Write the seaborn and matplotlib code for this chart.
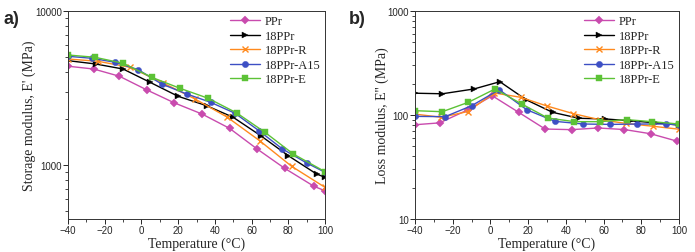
import numpy as np
import pandas as pd
import matplotlib
matplotlib.use("Agg")
import matplotlib.pyplot as plt
import matplotlib.ticker as mticker
import seaborn as sns

samples = ["PPr", "18PPr", "18PPr-R", "18PPr-A15", "18PPr-E"]
colors = ["#C94BAE", "#000000", "#FF8A1E", "#3D4FC4", "#5CC236"]
markers = ["D", ">", "x", "o", "s"]

# Panel a: storage modulus E' (MPa)
a_T_PPr = [-40, -26, -12, 3, 18, 33, 48, 63, 78, 94, 100]
a_E_PPr = [4380, 4200, 3770, 3070, 2530, 2143, 1730, 1271, 952, 727, 680]
a_T_18 = [-40, -25, -10, 4.7, 20, 35.5, 50, 65, 80, 95.4, 100]
a_E_18 = [4760, 4530, 4200, 3443, 2793, 2427, 2040, 1549, 1149, 874, 832]
a_T_R = [-40, -23.5, -6.2, 11.9, 29.2, 46.6, 64.4, 81.8, 100]
a_E_R = [4880, 4713, 4308, 3407, 2683, 2050, 1438, 981, 716]
a_T_A15 = [-40, -27, -14.4, -1.7, 11, 24.7, 37.7, 51, 64, 76.8, 90, 100]
a_E_A15 = [5080, 4931, 4645, 4157, 3357, 2891, 2553, 2167, 1670, 1271, 1031, 897]
a_T_E = [-40, -25.3, -9.9, 5.6, 21, 36.4, 51.9, 67.3, 82.7, 100]
a_E_E = [5179, 5006, 4574, 3711, 3148, 2710, 2178, 1630, 1179, 905]

# Panel b: loss modulus E'' (MPa)
b_T_PPr = [-40, -27, -12, 1, 15, 29, 43, 57, 71, 85, 99]
b_E_PPr = [80.6, 84, 112, 153, 106, 73.3, 72.3, 75, 72.5, 66, 56]
b_T_18 = [-40, -25.5, -8.7, 5, 19, 33, 47, 61, 74, 88, 100]
b_E_18 = [162, 160, 178, 209, 140, 106, 93, 91.6, 88, 84, 80]
b_T_R = [-40, -26, -12, 2, 16, 30, 44, 58, 72, 86, 100]
b_E_R = [102, 95, 108, 163, 148, 122, 103, 90, 83, 78, 73]
b_T_A15 = [-40, -24, -10, 4.7, 19.2, 34.2, 49.3, 63.4, 77.5, 93.1, 100]
b_E_A15 = [97, 96.4, 122.8, 175, 112.5, 86.9, 81.9, 81.2, 81.9, 81.9, 80.5]
b_T_E = [-40, -25.5, -11.7, 2.4, 16.6, 30.4, 44.5, 58.1, 72.3, 85.8, 100]
b_E_E = [110, 107.6, 132.5, 177.8, 127.6, 93.6, 86.3, 86.3, 90.2, 86.3, 81.9]


def frame(Ts, Es):
    rows = []
    for s, T, E in zip(samples, Ts, Es):
        for t, e in zip(T, E):
            rows.append((s, t, e))
    return pd.DataFrame(rows, columns=["sample", "T", "E"])


df_a = frame([a_T_PPr, a_T_18, a_T_R, a_T_A15, a_T_E],
             [a_E_PPr, a_E_18, a_E_R, a_E_A15, a_E_E])
df_b = frame([b_T_PPr, b_T_18, b_T_R, b_T_A15, b_T_E],
             [b_E_PPr, b_E_18, b_E_R, b_E_A15, b_E_E])

sns.set_theme(style="ticks")
plt.rcParams["font.family"] = ["Liberation Sans", "DejaVu Sans"]

fig = plt.figure(figsize=(6.95, 2.53), dpi=100)
ax_a = fig.add_axes([68 / 695, 33 / 253, 257 / 695, 208 / 253])
ax_b = fig.add_axes([415 / 695, 33 / 253, 264 / 695, 208 / 253])

serif = ["Liberation Serif", "DejaVu Serif"]

for ax, df, ylim, ylabel, yt in [
    (ax_a, df_a, (446, 10000), "Storage modulus, E' (MPa)", [1000, 10000]),
    (ax_b, df_b, (10, 1000), "Loss modulus, E'' (MPa)", [10, 100, 1000]),
]:
    for s, c, m in zip(samples, colors, markers):
        sub = df[df["sample"] == s]
        if m == "x":
            kw = dict(markeredgewidth=1.0, markeredgecolor=c, markersize=5)
        else:
            kw = dict(markeredgewidth=0.3, markeredgecolor=c, markersize=4.5)
        sns.lineplot(data=sub, x="T", y="E", color=c, marker=m, label=s,
                     linewidth=1.0, ax=ax, sort=True, estimator=None, **kw)
    ax.set_yscale("log")
    ax.set_ylim(*ylim)
    ax.set_xlim(-40, 100)
    ax.set_xticks(np.arange(-40, 101, 20))
    ax.xaxis.set_minor_locator(mticker.MultipleLocator(10))
    ax.set_yticks(yt)
    ax.yaxis.set_major_formatter(mticker.FuncFormatter(lambda v, p: f"{int(round(v))}"))
    ax.yaxis.set_minor_locator(mticker.LogLocator(base=10, subs=np.arange(2, 10)))
    ax.yaxis.set_minor_formatter(mticker.NullFormatter())
    ax.tick_params(axis="both", which="major", direction="out", length=3.5,
                   width=0.7, labelsize=7, pad=1.0)
    ax.tick_params(axis="both", which="minor", direction="out", length=2, width=0.6)
    for sp in ax.spines.values():
        sp.set_linewidth(0.7)
        sp.set_color("#333333")
    ax.set_xlabel("Temperature (°C)", family=serif, fontsize=10, labelpad=1)
    ax.set_ylabel(ylabel, family=serif, fontsize=10, labelpad=-1)
    ax.legend(loc="upper right", frameon=False,
              prop={"family": serif, "size": 9},
              handlelength=2.4, labelspacing=0.2, borderaxespad=0.1,
              borderpad=0.25, handletextpad=0.4)

fig.text(3 / 695, 1 - 24 / 253, "a)", fontsize=13, fontweight="bold")
fig.text(349 / 695, 1 - 24 / 253, "b)", fontsize=13, fontweight="bold")

fig.savefig("out.png", dpi=100)
